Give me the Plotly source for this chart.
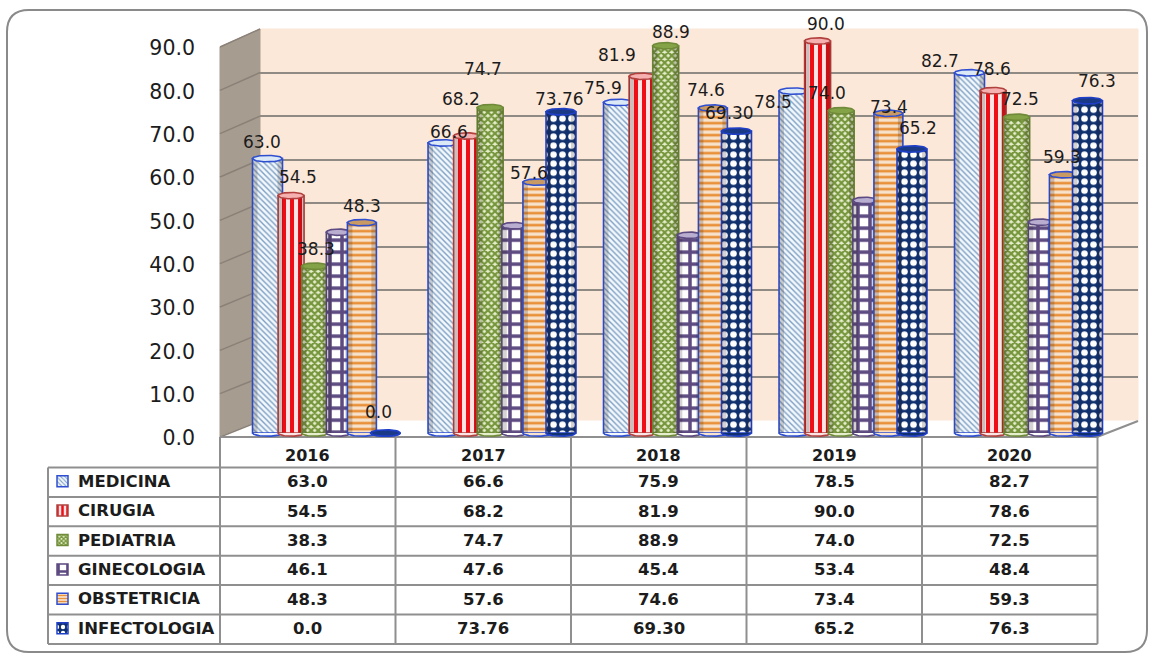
import plotly.graph_objects as go

WIDTH, HEIGHT = 1149, 655

# Hospital occupancy by service and year
YEARS = ["2016", "2017", "2018", "2019", "2020"]
MEDICINA = [63.0, 66.6, 75.9, 78.5, 82.7]
CIRUGIA = [54.5, 68.2, 81.9, 90.0, 78.6]
PEDIATRIA = [38.3, 74.7, 88.9, 74.0, 72.5]
GINECOLOGIA = [46.1, 47.6, 45.4, 53.4, 48.4]
OBSTETRICIA = [48.3, 57.6, 74.6, 73.4, 59.3]
INFECTOLOGIA = [0.0, 73.76, 69.30, 65.2, 76.3]
INFECTOLOGIA_TEXT = ["0.0", "73.76", "69.30", "65.2", "76.3"]
Y_TICKS = [0, 10, 20, 30, 40, 50, 60, 70, 80, 90]


def fmt(values):
    return [f"{v:.1f}" for v in values]


# name, values, texts, bar px, outline, pattern shape, fg, bg, pattern size, solidity, cap fill
SERIES = [
    ("MEDICINA", MEDICINA, fmt(MEDICINA), 30, "#2f4fd0", "\\", "#7fa0c4", "#f2f8fc", 4, 0.35, "#dbe8f5"),
    ("CIRUGIA", CIRUGIA, fmt(CIRUGIA), 26, "#b0413e", "|", "#ee0f16", "#fde3e3", 8, 0.5, "#f6b0b0"),
    ("PEDIATRIA", PEDIATRIA, fmt(PEDIATRIA), 26, "#6f8a38", "x", "#76963c", "#e6eecd", 5, 0.68, "#84a246"),
    ("GINECOLOGIA", GINECOLOGIA, fmt(GINECOLOGIA), 24, "#5c4a80", "+", "#5c4a80", "#ffffff", 12, 0.5, "#b9aed0"),
    ("OBSTETRICIA", OBSTETRICIA, fmt(OBSTETRICIA), 29, "#2f4fd0", "-", "#e8913a", "#f8e3cd", 6, 0.45, "#c99a63"),
    ("INFECTOLOGIA", INFECTOLOGIA, INFECTOLOGIA_TEXT, 30, "#1f3fc8", ".", "#ffffff", "#10306e", 9, 0.42, "#1a3a88"),
]

# Per-label nudges in pixels, relative to the top centre of each bar
LABEL_DX = {
    "MEDICINA": [-6, 6, -16, -21, -30],
    "CIRUGIA": [7, -6, -25, 8, -1],
    "PEDIATRIA": [1, -7, 5, -14, 3],
    "OBSTETRICIA": [0, -8, -7, 1, -2],
    "INFECTOLOGIA": [-7, -2, -7, 6, 9],
}
LABEL_DY = {
    "MEDICINA": [-17, -11, -14, 11, -12],
    "CIRUGIA": [-19, -37, -21, -17, -22],
    "PEDIATRIA": [-17, -39, -14, -18, -18],
    "OBSTETRICIA": [-17, -9, -18, -6, -18],
    "INFECTOLOGIA": [-21, -13, -18, -21, -20],
}

# Pixel geometry of the pseudo-3D plot box
GROUP_PITCH = 175.5
GROUP_FIRST = 326.5
BAR_PITCH = 23.6
BASE_PX, TOP90_PX = 433.0, 41.0
BACK = dict(x0=260, x1=1138, y0=421, y1=29)
FRONT = dict(x0=220, x1=1097, y0=437, y1=47)
PX_PER_UNIT = (BASE_PX - TOP90_PX) / 90
TABLE_TOP, ROW_H = 437, 29.4
ROW0 = 467.5
TABLE_LEFT, TABLE_COL0 = 48, 220

FONT = "DejaVu Sans"
INK = "#1c1c1c"
RULE = "#8f8f8f"


def px(x):
    return x / WIDTH


def py(y):
    return 1 - y / HEIGHT


def polygon(points, fill, line=None, width=1, layer="below"):
    path = "M " + " L ".join(f"{px(x):.5f},{py(y):.5f}" for x, y in points) + " Z"
    return dict(type="path", path=path, xref="paper", yref="paper", fillcolor=fill,
                line=dict(color=line or fill, width=width), layer=layer)


def segment(x0, y0, x1, y1, color=RULE, width=2, layer="below"):
    return dict(type="line", xref="paper", yref="paper", x0=px(x0), y0=py(y0), x1=px(x1), y1=py(y1),
                line=dict(color=color, width=width), layer=layer)


fig = go.Figure()
shapes = []
annotations = []

# Rounded outer frame
fx0, fy0, fx1, fy1, r = 7, 10, 1147, 652, 22
frame = (f"M {px(fx0 + r)},{py(fy0)} L {px(fx1 - r)},{py(fy0)} Q {px(fx1)},{py(fy0)} {px(fx1)},{py(fy0 + r)} "
         f"L {px(fx1)},{py(fy1 - r)} Q {px(fx1)},{py(fy1)} {px(fx1 - r)},{py(fy1)} "
         f"L {px(fx0 + r)},{py(fy1)} Q {px(fx0)},{py(fy1)} {px(fx0)},{py(fy1 - r)} "
         f"L {px(fx0)},{py(fy0 + r)} Q {px(fx0)},{py(fy0)} {px(fx0 + r)},{py(fy0)} Z")
shapes.append(dict(type="path", path=frame, xref="paper", yref="paper", fillcolor="#ffffff",
                   line=dict(color="#8a8a8a", width=2), layer="below"))

# Walls and floor
shapes.append(polygon([(BACK["x0"], BACK["y1"]), (BACK["x1"], BACK["y1"]), (BACK["x1"], BACK["y0"]), (BACK["x0"], BACK["y0"])], "#fce8d9"))
shapes.append(polygon([(FRONT["x0"], FRONT["y1"]), (BACK["x0"], BACK["y1"]), (BACK["x0"], BACK["y0"]), (FRONT["x0"], FRONT["y0"])], "#a69c90"))
shapes.append(polygon([(FRONT["x0"], FRONT["y0"]), (BACK["x0"], BACK["y0"]), (BACK["x1"], BACK["y0"]), (FRONT["x1"], FRONT["y0"])], "#ffffff"))
shapes.append(segment(FRONT["x1"], FRONT["y0"], BACK["x1"], BACK["y0"]))
for tick in Y_TICKS:
    yf = FRONT["y0"] + (FRONT["y1"] - FRONT["y0"]) * tick / 90
    yb = BACK["y0"] + (BACK["y1"] - BACK["y0"]) * tick / 90
    shapes.append(segment(FRONT["x0"], yf, BACK["x0"], yb, color="#8b8177", width=1.5))

# Table rules
n_rows = len(SERIES)
table_right = TABLE_COL0 + GROUP_PITCH * len(YEARS)
shapes.append(segment(TABLE_COL0, TABLE_TOP, table_right, TABLE_TOP))
for r_i in range(n_rows + 1):
    y = ROW0 + ROW_H * r_i
    shapes.append(segment(TABLE_LEFT, y, table_right, y))
table_bottom = ROW0 + ROW_H * n_rows
shapes.append(segment(TABLE_LEFT, ROW0, TABLE_LEFT, table_bottom))
for c_i in range(len(YEARS) + 1):
    x = TABLE_COL0 + GROUP_PITCH * c_i
    shapes.append(segment(x, TABLE_TOP, x, table_bottom))

# Table text
for c_i, year in enumerate(YEARS):
    cx = TABLE_COL0 + GROUP_PITCH * (c_i + 0.5)
    annotations.append(dict(xref="paper", yref="paper", x=px(cx), y=py((TABLE_TOP + ROW0) / 2 + 3.5), text=f"<b>{year}</b>",
                            showarrow=False, xanchor="center", yanchor="middle", font=dict(family=FONT, size=16, color=INK)))
for r_i, s in enumerate(SERIES):
    cy = ROW0 + ROW_H * (r_i + 0.5)
    annotations.append(dict(xref="paper", yref="paper", x=px(76), y=py(cy - 1), text=f"<b>{s[0]}</b>",
                            showarrow=False, xanchor="left", yanchor="middle", font=dict(family=FONT, size=16.5, color=INK)))
    for c_i, text in enumerate(s[2]):
        cx = TABLE_COL0 + GROUP_PITCH * (c_i + 0.5)
        annotations.append(dict(xref="paper", yref="paper", x=px(cx), y=py(cy - 0.5), text=f"<b>{text}</b>",
                                showarrow=False, xanchor="center", yanchor="middle", font=dict(family=FONT, size=16.5, color=INK)))

# Shared axis scales: one category unit is one group pitch, y spans the bar scale with room for the rounded ends
x_range = [-GROUP_FIRST / GROUP_PITCH, (WIDTH - GROUP_FIRST) / GROUP_PITCH]
y_pad = 8
y_dom = [py(BASE_PX + y_pad * PX_PER_UNIT), py(TOP90_PX - y_pad * PX_PER_UNIT)]
y_range = [-y_pad, 90 + y_pad]


def hidden(**kw):
    return dict(visible=False, fixedrange=True, **kw)


# Back-wall gridlines on the first subplot
fig.add_trace(go.Scatter(x=[0, 1], y=[0, 90], mode="markers", marker=dict(opacity=0), hoverinfo="skip",
                         showlegend=False, xaxis="x", yaxis="y"))
layout_axes = dict(
    xaxis=hidden(range=[0, 1], domain=[px(BACK["x0"]), px(BACK["x1"])]),
    yaxis=dict(range=[0, 90], domain=[py(BACK["y0"]), py(BACK["y1"])], tickvals=Y_TICKS, showticklabels=False,
               showgrid=True, gridcolor="#8f8a84", gridwidth=2, zeroline=False, ticks="", showline=False, fixedrange=True,
               anchor="x"),
)

# One subplot per series so later cylinders stack in front of earlier ones
for s_i, s in enumerate(SERIES):
    name, values, texts, bar_px, outline, shape, fg, bg, size, solidity, cap = s
    ax = s_i + 2
    xa, ya = f"x{ax}", f"y{ax}"
    layout_axes[f"xaxis{ax}"] = hidden(range=x_range, domain=[0, 1], anchor=ya)
    layout_axes[f"yaxis{ax}"] = hidden(range=y_range, domain=y_dom, anchor=xa)
    offset = (s_i - 2.5) * BAR_PITCH / GROUP_PITCH
    xs = [i + offset for i in range(len(YEARS))]
    w = bar_px / GROUP_PITCH
    fig.add_trace(go.Bar(x=xs, y=values, width=w, name=name, xaxis=xa, yaxis=ya, showlegend=False,
                         hoverinfo="skip",
                         marker=dict(color=bg, line=dict(color=outline, width=1.6),
                                     pattern=dict(shape=shape, fgcolor=fg, bgcolor=bg, fgopacity=1, size=size, solidity=solidity))))
    # Darker strips along both edges give the round look
    strip = 5 / GROUP_PITCH
    for side in (-1, 1):
        fig.add_trace(go.Bar(x=[x + side * (w - strip) / 2 for x in xs], y=values, width=strip, xaxis=xa, yaxis=ya,
                             showlegend=False, hoverinfo="skip",
                             marker=dict(color="rgba(40,30,30,0.20)", line=dict(width=0))))
    # Elliptical ends of each cylinder
    ry = 3.2 / PX_PER_UNIT
    for x, v in zip(xs, values):
        k = [j / 24 for j in range(25)]
        arc = [(1 - 2 * t) for t in k]
        half = [max(0.0, 1 - a * a) ** 0.5 for a in arc]
        fig.add_trace(go.Scatter(x=[x + a * w / 2 for a in arc], y=[-h * ry for h in half], mode="lines", fill="toself",
                                 fillcolor=bg, line=dict(color=outline, width=1.6), xaxis=xa, yaxis=ya,
                                 showlegend=False, hoverinfo="skip"))
        fig.add_trace(go.Scatter(x=[x + a * w / 2 for a in arc] + [x - a * w / 2 for a in arc],
                                 y=[v + h * ry for h in half] + [v - h * ry for h in half], mode="lines", fill="toself",
                                 fillcolor=cap, line=dict(color=outline, width=1.6), xaxis=xa, yaxis=ya,
                                 showlegend=False, hoverinfo="skip"))
    # Value labels
    if name in LABEL_DX:
        for x, v, text, dx, dy in zip(xs, values, texts, LABEL_DX[name], LABEL_DY[name]):
            annotations.append(dict(xref=xa, yref=ya, x=x, y=v, text=text, showarrow=False, xanchor="center", yanchor="middle",
                                    xshift=dx, yshift=-dy, font=dict(family=FONT, size=17, color=INK)))

# Y axis labels on the front edge of the side wall
fig.add_trace(go.Scatter(x=[0, 1], y=[0, 90], mode="markers", marker=dict(opacity=0), hoverinfo="skip",
                         showlegend=False, xaxis="x8", yaxis="y8"))
layout_axes["xaxis8"] = hidden(range=[0, 1], domain=[px(FRONT["x0"]), px(FRONT["x1"])], anchor="y8")
layout_axes["yaxis8"] = dict(range=[0, 90], domain=[py(FRONT["y0"] + 1), py(FRONT["y1"] + 1)], tickvals=Y_TICKS, tickformat=".1f",
                             showgrid=False, zeroline=False, ticks="", showline=False, fixedrange=True, anchor="x8",
                             ticklabelstandoff=24, tickfont=dict(family=FONT, size=20.5, color=INK))

# Legend keys in the first table column, on a plain pixel scale
layout_axes["xaxis9"] = hidden(range=[0, WIDTH], domain=[0, 1], anchor="y9")
layout_axes["yaxis9"] = hidden(range=[HEIGHT, 0], domain=[0, 1], anchor="x9")
for r_i, s in enumerate(SERIES):
    name, _, _, _, outline, shape, fg, bg, size, solidity, _ = s
    cy = ROW0 + ROW_H * (r_i + 0.5) - 1
    fig.add_trace(go.Bar(x=[62.5], base=[cy + 5.5], y=[-11], width=11, xaxis="x9", yaxis="y9", showlegend=False, hoverinfo="skip",
                         marker=dict(color=bg, line=dict(color=outline, width=1.5),
                                     pattern=dict(shape=shape, fgcolor=fg, bgcolor=bg, fgopacity=1, size=max(3, size - 3), solidity=solidity))))

fig.update_layout(
    width=WIDTH, height=HEIGHT, autosize=False, margin=dict(l=0, r=0, t=0, b=0, pad=0, autoexpand=False),
    paper_bgcolor="#ffffff", plot_bgcolor="rgba(0,0,0,0)", barmode="overlay", showlegend=False,
    shapes=shapes, annotations=annotations, **layout_axes,
)

fig.write_html("out.html", config=dict(displayModeBar=False))
